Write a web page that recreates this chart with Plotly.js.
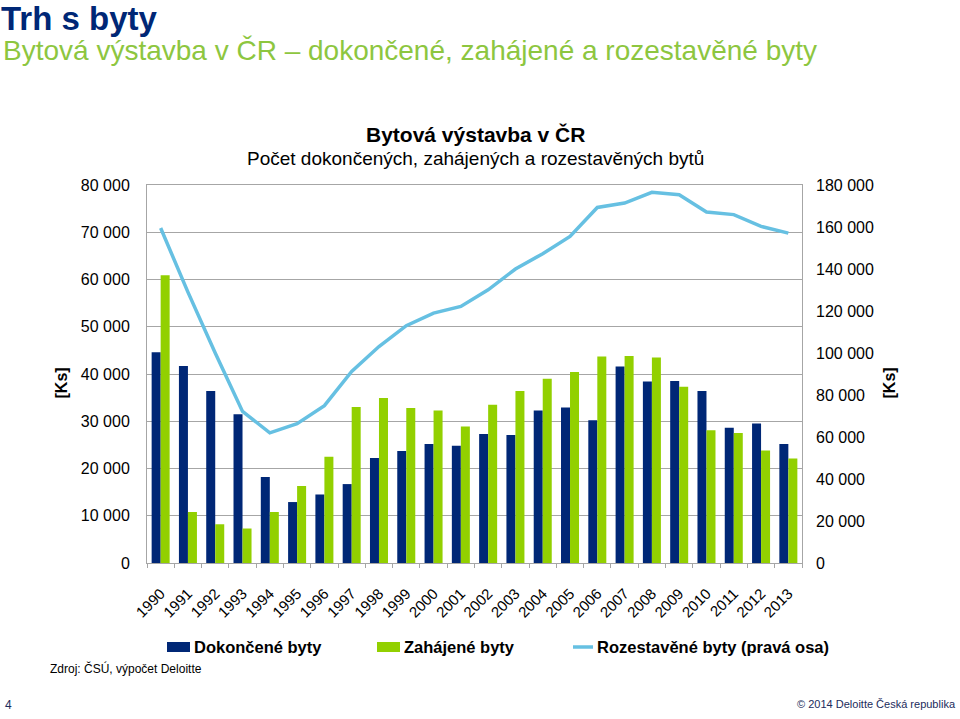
<!DOCTYPE html>
<html>
<head>
<meta charset="utf-8">
<script src="https://cdn.plot.ly/plotly-3.0.1.min.js"></script>
<style>
  body { margin: 0; background: #fff; font-family: "Liberation Sans", Arial, sans-serif; }
  #page { position: relative; width: 960px; height: 719px; overflow: hidden; }
  #chart { position: absolute; left: 0; top: 0; width: 960px; height: 719px; }
  .txt { position: absolute; white-space: nowrap; }
</style>
</head>
<body>
<div id="page">
  <div id="chart"></div>
  <div class="txt" style="left:1px;top:2px;font-size:33px;line-height:33px;font-weight:bold;color:#002776;">Trh s byty</div>
  <div class="txt" style="left:3px;top:37px;font-size:28px;line-height:28px;color:#8DC63F;">Bytová výstavba v ČR – dokončené, zahájené a rozestavěné byty</div>
  <div class="txt" style="left:50px;top:662px;font-size:12px;color:#000;">Zdroj: ČSÚ, výpočet Deloitte</div>
  <div class="txt" style="left:5px;top:698px;font-size:12px;color:#1c2c5c;">4</div>
  <div class="txt" style="right:5px;top:698px;font-size:11px;color:#1c2c5c;">© 2014 Deloitte Česká republika</div>
</div>
<script>
var years = ["1990", "1991", "1992", "1993", "1994", "1995", "1996", "1997", "1998", "1999", "2000", "2001",
  "2002", "2003", "2004", "2005", "2006", "2007", "2008", "2009", "2010", "2011", "2012", "2013"];
var dokoncene = [44600, 41700, 36400, 31500, 18200, 12900, 14500, 16700, 22200, 23700, 25200, 24800,
  27300, 27100, 32300, 32900, 30200, 41600, 38400, 38500, 36400, 28600, 29500, 25200];
var zahajene = [60900, 10800, 8200, 7300, 10800, 16300, 22500, 33000, 34900, 32800, 32300, 28900,
  33500, 36400, 39000, 40400, 43700, 43800, 43500, 37300, 28100, 27500, 23800, 22100];
var rozestavene = [159500, 129000, 100000, 72200, 62000, 66300, 74900, 91200, 103100, 113000, 119000, 122200,
  130100, 140000, 147300, 155500, 169300, 171400, 176500, 175400, 167100, 165900, 160300, 157100];
var names = ["Dokončené byty", "Zahájené byty", "Rozestavěné byty (pravá osa)"];

var navy = "#002776", green = "#92D000", blue = "#66C0E2";
var fnt = "Liberation Sans, Arial, sans-serif";

var traces = [
  { type: "bar", x: years, y: dokoncene, name: names[0], marker: { color: navy } },
  { type: "bar", x: years, y: zahajene, name: names[1], marker: { color: green } },
  { type: "scatter", mode: "lines", x: years, y: rozestavene, name: names[2], yaxis: "y2",
    line: { color: blue, width: 3.5 } }
];

// legend drawn by hand so the swatches can be wide and close to the text
var legX = [167, 377, 573];
function px(x) { return (x - 147) / 655; }
function py(y) { return (563 - y) / 378; }
var shapes = [
  { type: "rect", xref: "paper", yref: "paper", x0: px(167), x1: px(190), y0: py(652), y1: py(642),
    fillcolor: navy, line: { width: 0 } },
  { type: "rect", xref: "paper", yref: "paper", x0: px(377), x1: px(400), y0: py(652), y1: py(642),
    fillcolor: green, line: { width: 0 } },
  { type: "line", xref: "paper", yref: "paper", x0: px(573), x1: px(593), y0: py(647), y1: py(647),
    line: { color: blue, width: 3.5 } }
];
var annotations = [
  { text: "<b>Bytová výstavba v ČR</b>", xref: "paper", yref: "paper", x: px(475), y: py(134),
    yanchor: "middle", showarrow: false, font: { size: 21, color: "#000" } },
  { text: "Počet dokončených, zahájených a rozestavěných bytů", xref: "paper", yref: "paper", x: px(475), y: py(158),
    yanchor: "middle", showarrow: false, font: { size: 19, color: "#000" } },
  { text: "<b>[Ks]</b>", xref: "paper", yref: "paper", x: px(50), y: py(383), textangle: -90,
    showarrow: false, font: { size: 16, color: "#000" } },
  { text: "<b>[Ks]</b>", xref: "paper", yref: "paper", x: px(899), y: py(383), textangle: -90,
    showarrow: false, font: { size: 16, color: "#000" } }
];
for (var i = 0; i < names.length; i++) {
  annotations.push({ text: "<b>" + names[i] + "</b>", xref: "paper", yref: "paper",
    x: px(legX[i] + (i == 2 ? 22 : 25)), y: py(647), xanchor: "left", yanchor: "middle", showarrow: false,
    font: { size: 16.5, color: "#000" } });
}

var layout = {
  width: 960, height: 719,
  margin: { l: 147, r: 158, t: 185, b: 156 },
  paper_bgcolor: "#fff", plot_bgcolor: "#fff",
  font: { family: fnt, size: 16, color: "#000" },
  separators: ", ",
  showlegend: false,
  barmode: "group", bargap: 0.34, bargroupgap: 0,
  xaxis: {
    type: "category", tickangle: -45, showline: true, mirror: true, linecolor: "#a6a6a6", linewidth: 1,
    ticks: "outside", tickson: "boundaries", ticklen: 4, tickcolor: "#a6a6a6",
    ticklabelstandoff: 15, tickfont: { size: 15 }, showgrid: false
  },
  yaxis: {
    range: [0, 80000], dtick: 10000, tickformat: ",d", showline: true, mirror: true,
    linecolor: "#a6a6a6", linewidth: 1, gridcolor: "#a6a6a6", gridwidth: 1, zeroline: false,
    ticks: "", ticklabelstandoff: 13, tickfont: { size: 16 }
  },
  yaxis2: {
    overlaying: "y", side: "right", range: [0, 180000], dtick: 20000, tickformat: ",d",
    showgrid: false, zeroline: false, showline: false, ticks: "", ticklabelstandoff: 13,
    tickfont: { size: 16 }
  },
  shapes: shapes,
  annotations: annotations
};

Plotly.newPlot("chart", traces, layout, { displayModeBar: false, staticPlot: true });
</script>
</body>
</html>
